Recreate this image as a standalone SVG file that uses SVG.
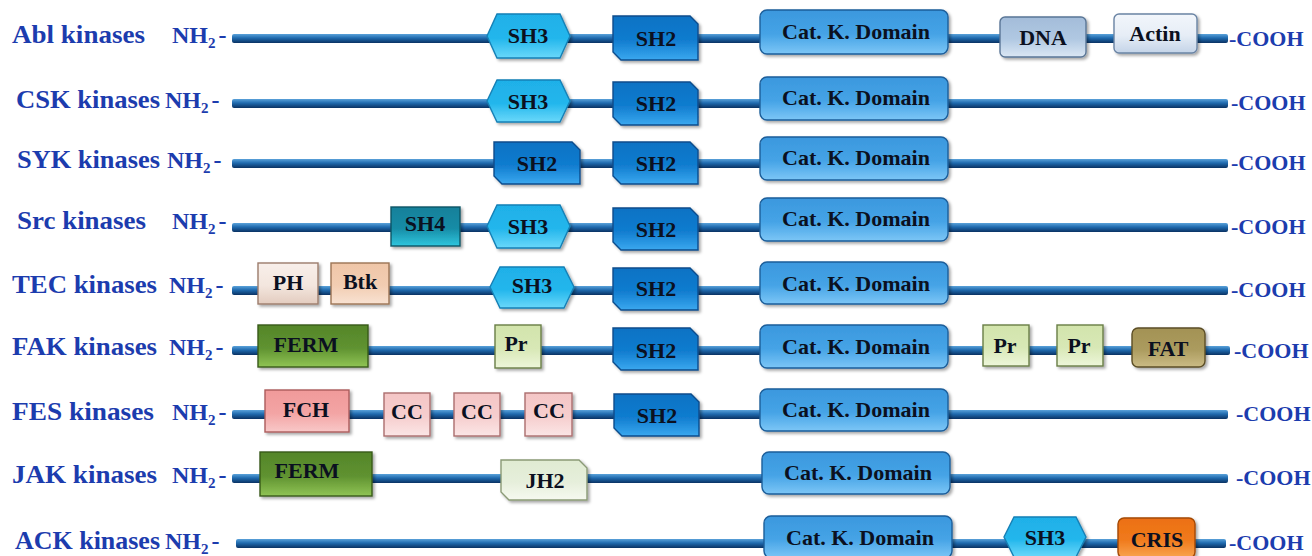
<svg xmlns="http://www.w3.org/2000/svg" width="1312" height="556" viewBox="0 0 1312 556">
<defs>
<linearGradient id="gBar" x1="0" y1="0" x2="0" y2="1"><stop offset="0" stop-color="#5aa2da"/><stop offset="0.45" stop-color="#1f6aae"/><stop offset="1" stop-color="#0a3263"/></linearGradient>
<linearGradient id="gSH3" x1="0" y1="0" x2="0" y2="1"><stop offset="0" stop-color="#1fb0e8"/><stop offset="0.55" stop-color="#22b6ec"/><stop offset="1" stop-color="#6ad8fa"/></linearGradient>
<linearGradient id="gSH2" x1="0" y1="0" x2="0" y2="1"><stop offset="0" stop-color="#0d72c4"/><stop offset="0.55" stop-color="#117ccf"/><stop offset="1" stop-color="#3aa8ef"/></linearGradient>
<linearGradient id="gCat" x1="0" y1="0" x2="0" y2="1"><stop offset="0" stop-color="#3b98de"/><stop offset="0.55" stop-color="#45a3e6"/><stop offset="1" stop-color="#7cc6f6"/></linearGradient>
<linearGradient id="gDNA" x1="0" y1="0" x2="0" y2="1"><stop offset="0" stop-color="#a3bcd9"/><stop offset="0.55" stop-color="#b0c8e2"/><stop offset="1" stop-color="#dbe7f4"/></linearGradient>
<linearGradient id="gActin" x1="0" y1="0" x2="0" y2="1"><stop offset="0" stop-color="#f2f6fb"/><stop offset="0.55" stop-color="#e6edf6"/><stop offset="1" stop-color="#c4d4e8"/></linearGradient>
<linearGradient id="gSH4" x1="0" y1="0" x2="0" y2="1"><stop offset="0" stop-color="#13809a"/><stop offset="0.55" stop-color="#178ca6"/><stop offset="1" stop-color="#30c6de"/></linearGradient>
<linearGradient id="gPH" x1="0" y1="0" x2="0" y2="1"><stop offset="0" stop-color="#f8efea"/><stop offset="0.55" stop-color="#f3e6de"/><stop offset="1" stop-color="#e3ccbf"/></linearGradient>
<linearGradient id="gBtk" x1="0" y1="0" x2="0" y2="1"><stop offset="0" stop-color="#efc6a8"/><stop offset="0.55" stop-color="#f2cdb2"/><stop offset="1" stop-color="#f8e2d2"/></linearGradient>
<linearGradient id="gFERM" x1="0" y1="0" x2="0" y2="1"><stop offset="0" stop-color="#55862a"/><stop offset="0.55" stop-color="#5f9230"/><stop offset="1" stop-color="#90c455"/></linearGradient>
<linearGradient id="gPr" x1="0" y1="0" x2="0" y2="1"><stop offset="0" stop-color="#d2e4ac"/><stop offset="0.55" stop-color="#d8e8b6"/><stop offset="1" stop-color="#edf6da"/></linearGradient>
<linearGradient id="gFAT" x1="0" y1="0" x2="0" y2="1"><stop offset="0" stop-color="#a39255"/><stop offset="0.55" stop-color="#ab9b5e"/><stop offset="1" stop-color="#cbbb85"/></linearGradient>
<linearGradient id="gFCH" x1="0" y1="0" x2="0" y2="1"><stop offset="0" stop-color="#f09a9a"/><stop offset="0.55" stop-color="#f3a4a4"/><stop offset="1" stop-color="#f8c8c8"/></linearGradient>
<linearGradient id="gCC" x1="0" y1="0" x2="0" y2="1"><stop offset="0" stop-color="#f4c6c6"/><stop offset="0.55" stop-color="#f6cece"/><stop offset="1" stop-color="#fbe6e6"/></linearGradient>
<linearGradient id="gJH2" x1="0" y1="0" x2="0" y2="1"><stop offset="0" stop-color="#e0ebd2"/><stop offset="0.55" stop-color="#e6efdb"/><stop offset="1" stop-color="#f6f9f0"/></linearGradient>
<linearGradient id="gCRIS" x1="0" y1="0" x2="0" y2="1"><stop offset="0" stop-color="#ec7014"/><stop offset="0.55" stop-color="#f07a1c"/><stop offset="1" stop-color="#f9a550"/></linearGradient>
<filter id="sh" x="-10%" y="-20%" width="125%" height="150%"><feDropShadow dx="2" dy="2" stdDeviation="1.5" flood-color="#000" flood-opacity="0.35"/></filter>
</defs>
<style>
.lbl{font-family:"Liberation Serif","Times New Roman",serif;font-weight:bold;font-size:26px;fill:#1c3cae}
.nh{font-family:"Liberation Serif","Times New Roman",serif;font-weight:bold;font-size:24px;fill:#1c3cae}
.co{font-family:"Liberation Serif","Times New Roman",serif;font-weight:bold;font-size:22px;fill:#1c3cae}
.dt{font-family:"Liberation Serif","Times New Roman",serif;font-weight:bold;font-size:22px;fill:#0b1020;text-anchor:middle}
.bar{fill:url(#gBar)}
.d{filter:url(#sh);stroke-width:1.4}
.sh3{fill:url(#gSH3);stroke:#1480b6}
.sh2{fill:url(#gSH2);stroke:#0a4c8c}
.cat{fill:url(#gCat);stroke:#1d5e9a}
.dna{fill:url(#gDNA);stroke:#5a7696}
.actin{fill:url(#gActin);stroke:#6a84a4}
.sh4{fill:url(#gSH4);stroke:#0c5666}
.ph{fill:url(#gPH);stroke:#9c7c6c}
.btk{fill:url(#gBtk);stroke:#9c7454}
.ferm{fill:url(#gFERM);stroke:#385a18}
.pr{fill:url(#gPr);stroke:#6a7e46}
.fat{fill:url(#gFAT);stroke:#5c4e26}
.fch{fill:url(#gFCH);stroke:#ac5c5c}
.cc{fill:url(#gCC);stroke:#ac6e6e}
.jh2{fill:url(#gJH2);stroke:#8a9a76}
.cris{fill:url(#gCRIS);stroke:#a44806}
</style>
<rect width="1312" height="556" fill="#fff"/>

<g id="backbones">
<rect class="bar" x="232" y="34" width="996" height="9" rx="2"/>
<rect class="bar" x="232" y="99" width="996" height="9" rx="2"/>
<rect class="bar" x="232" y="159" width="996" height="9" rx="2"/>
<rect class="bar" x="232" y="223" width="996" height="9" rx="2"/>
<rect class="bar" x="232" y="286" width="996" height="9" rx="2"/>
<rect class="bar" x="232" y="346" width="998" height="9" rx="2"/>
<rect class="bar" x="232" y="410" width="996" height="9" rx="2"/>
<rect class="bar" x="232" y="474" width="996" height="9" rx="2"/>
<rect class="bar" x="236" y="539" width="990" height="9" rx="2"/>
</g>

<g id="labels">
<text class="lbl" x="12" y="43" textLength="133" lengthAdjust="spacingAndGlyphs">Abl kinases</text><text class="nh" x="172" y="43">NH<tspan font-size="15" dy="5">2</tspan><tspan dx="3" dy="-5">-</tspan></text>
<text class="lbl" x="16" y="108" textLength="144" lengthAdjust="spacingAndGlyphs">CSK kinases</text><text class="nh" x="165" y="108">NH<tspan font-size="15" dy="5">2</tspan><tspan dx="3" dy="-5">-</tspan></text>
<text class="lbl" x="17" y="168" textLength="143" lengthAdjust="spacingAndGlyphs">SYK kinases</text><text class="nh" x="167" y="168">NH<tspan font-size="15" dy="5">2</tspan><tspan dx="3" dy="-5">-</tspan></text>
<text class="lbl" x="17" y="229" textLength="129" lengthAdjust="spacingAndGlyphs">Src kinases</text><text class="nh" x="172" y="229">NH<tspan font-size="15" dy="5">2</tspan><tspan dx="3" dy="-5">-</tspan></text>
<text class="lbl" x="12" y="293" textLength="145" lengthAdjust="spacingAndGlyphs">TEC kinases</text><text class="nh" x="169" y="293">NH<tspan font-size="15" dy="5">2</tspan><tspan dx="3" dy="-5">-</tspan></text>
<text class="lbl" x="12" y="355" textLength="145" lengthAdjust="spacingAndGlyphs">FAK kinases</text><text class="nh" x="169" y="355">NH<tspan font-size="15" dy="5">2</tspan><tspan dx="3" dy="-5">-</tspan></text>
<text class="lbl" x="12" y="420" textLength="142" lengthAdjust="spacingAndGlyphs">FES kinases</text><text class="nh" x="172" y="420">NH<tspan font-size="15" dy="5">2</tspan><tspan dx="3" dy="-5">-</tspan></text>
<text class="lbl" x="12" y="483" textLength="145" lengthAdjust="spacingAndGlyphs">JAK kinases</text><text class="nh" x="172" y="483">NH<tspan font-size="15" dy="5">2</tspan><tspan dx="3" dy="-5">-</tspan></text>
<text class="lbl" x="15" y="549" textLength="145" lengthAdjust="spacingAndGlyphs">ACK kinases</text><text class="nh" x="165" y="549">NH<tspan font-size="15" dy="5">2</tspan><tspan dx="3" dy="-5">-</tspan></text>
<text class="co" x="1229" y="46">-COOH</text>
<text class="co" x="1231" y="110">-COOH</text>
<text class="co" x="1231" y="170">-COOH</text>
<text class="co" x="1231" y="234">-COOH</text>
<text class="co" x="1231" y="297">-COOH</text>
<text class="co" x="1234" y="358">-COOH</text>
<text class="co" x="1236" y="421">-COOH</text>
<text class="co" x="1236" y="485">-COOH</text>
<text class="co" x="1229" y="550">-COOH</text>
</g>

<g id="abl">
<g id="abl-sh3"><path class="d sh3" d="M497,14H560L570,36L560,58H497L487,36Z"/><text class="dt" x="528" y="43">SH3</text></g>
<g id="abl-sh2"><path class="d sh2" d="M613,16H690L698,24V60H621L613,52Z"/><text class="dt" x="656" y="46">SH2</text></g>
<g id="abl-cat"><rect class="d cat" x="760" y="10" width="188" height="44" rx="7"/><text class="dt" x="856" y="39">Cat. K. Domain</text></g>
<g id="abl-dna"><rect class="d dna" x="1000" y="17" width="86" height="40" rx="5"/><text class="dt" x="1043" y="45">DNA</text></g>
<g id="abl-actin"><rect class="d actin" x="1114" y="14" width="83" height="39" rx="5"/><text class="dt" x="1155" y="41">Actin</text></g>
</g>

<g id="csk">
<g id="csk-sh3"><path class="d sh3" d="M497,80H560L570,101L560,122H497L487,101Z"/><text class="dt" x="528" y="109">SH3</text></g>
<g id="csk-sh2"><path class="d sh2" d="M613,82H690L698,90V125H621L613,117Z"/><text class="dt" x="656" y="111">SH2</text></g>
<g id="csk-cat"><rect class="d cat" x="760" y="77" width="188" height="43" rx="7"/><text class="dt" x="856" y="105">Cat. K. Domain</text></g>
</g>

<g id="syk">
<g id="syk-sh2a"><path class="d sh2" d="M494,142H572L580,150V184H502L494,176Z"/><text class="dt" x="537" y="171">SH2</text></g>
<g id="syk-sh2b"><path class="d sh2" d="M613,142H690L698,150V184H621L613,176Z"/><text class="dt" x="656" y="171">SH2</text></g>
<g id="syk-cat"><rect class="d cat" x="760" y="137" width="188" height="43" rx="7"/><text class="dt" x="856" y="165">Cat. K. Domain</text></g>
</g>

<g id="src">
<g id="src-sh4"><rect class="d sh4" x="391" y="207" width="69" height="39"/><text class="dt" x="425" y="231">SH4</text></g>
<g id="src-sh3"><path class="d sh3" d="M497,205H560L570,226L560,248H497L487,226Z"/><text class="dt" x="528" y="234">SH3</text></g>
<g id="src-sh2"><path class="d sh2" d="M613,208H690L698,216V250H621L613,242Z"/><text class="dt" x="656" y="237">SH2</text></g>
<g id="src-cat"><rect class="d cat" x="760" y="198" width="188" height="43" rx="7"/><text class="dt" x="856" y="226">Cat. K. Domain</text></g>
</g>

<g id="tec">
<g id="tec-ph"><rect class="d ph" x="258" y="263" width="60" height="41"/><text class="dt" x="288" y="290">PH</text></g>
<g id="tec-btk"><rect class="d btk" x="331" y="263" width="58" height="41"/><text class="dt" x="360" y="289">Btk</text></g>
<g id="tec-sh3"><path class="d sh3" d="M500,267H564L574,287L564,308H500L490,287Z"/><text class="dt" x="532" y="293">SH3</text></g>
<g id="tec-sh2"><path class="d sh2" d="M613,268H690L698,276V310H621L613,302Z"/><text class="dt" x="656" y="296">SH2</text></g>
<g id="tec-cat"><rect class="d cat" x="760" y="262" width="188" height="42" rx="7"/><text class="dt" x="856" y="291">Cat. K. Domain</text></g>
</g>

<g id="fak">
<g id="fak-ferm"><rect class="d ferm" x="258" y="325" width="110" height="42"/><text class="dt" x="306" y="352">FERM</text></g>
<g id="fak-pr1"><rect class="d pr" x="495" y="325" width="46" height="43"/><text class="dt" x="516" y="351">Pr</text></g>
<g id="fak-sh2"><path class="d sh2" d="M613,328H690L698,336V370H621L613,362Z"/><text class="dt" x="656" y="358">SH2</text></g>
<g id="fak-cat"><rect class="d cat" x="760" y="325" width="188" height="43" rx="7"/><text class="dt" x="856" y="354">Cat. K. Domain</text></g>
<g id="fak-pr2"><rect class="d pr" x="983" y="325" width="46" height="41"/><text class="dt" x="1005" y="353">Pr</text></g>
<g id="fak-pr3"><rect class="d pr" x="1057" y="325" width="46" height="41"/><text class="dt" x="1079" y="353">Pr</text></g>
<g id="fak-fat"><rect class="d fat" x="1132" y="328" width="73" height="39" rx="6"/><text class="dt" x="1168" y="356">FAT</text></g>
</g>

<g id="fes">
<g id="fes-fch"><rect class="d fch" x="265" y="390" width="84" height="42"/><text class="dt" x="306" y="417">FCH</text></g>
<g id="fes-cc1"><rect class="d cc" x="384" y="393" width="46" height="43"/><text class="dt" x="407" y="419">CC</text></g>
<g id="fes-cc2"><rect class="d cc" x="454" y="393" width="46" height="43"/><text class="dt" x="477" y="419">CC</text></g>
<g id="fes-cc3"><rect class="d cc" x="525" y="393" width="47" height="43"/><text class="dt" x="549" y="418">CC</text></g>
<g id="fes-sh2"><path class="d sh2" d="M614,394H691L699,402V436H622L614,428Z"/><text class="dt" x="657" y="423">SH2</text></g>
<g id="fes-cat"><rect class="d cat" x="760" y="389" width="188" height="42" rx="7"/><text class="dt" x="856" y="417">Cat. K. Domain</text></g>
</g>

<g id="jak">
<g id="jak-ferm"><rect class="d ferm" x="260" y="452" width="112" height="44"/><text class="dt" x="307" y="478">FERM</text></g>
<g id="jak-jh2"><path class="d jh2" d="M501,460H579L587,468V500H509L501,492Z"/><text class="dt" x="545" y="488">JH2</text></g>
<g id="jak-cat"><rect class="d cat" x="762" y="452" width="188" height="42" rx="7"/><text class="dt" x="858" y="480">Cat. K. Domain</text></g>
</g>

<g id="ack">
<g id="ack-cat"><rect class="d cat" x="764" y="516" width="188" height="42" rx="7"/><text class="dt" x="860" y="545">Cat. K. Domain</text></g>
<g id="ack-sh3"><path class="d sh3" d="M1014,517H1076L1086,537L1076,557H1014L1004,537Z"/><text class="dt" x="1045" y="545">SH3</text></g>
<g id="ack-cris"><rect class="d cris" x="1118" y="518" width="77" height="40" rx="6"/><text class="dt" x="1157" y="547">CRIS</text></g>
</g>
</svg>
